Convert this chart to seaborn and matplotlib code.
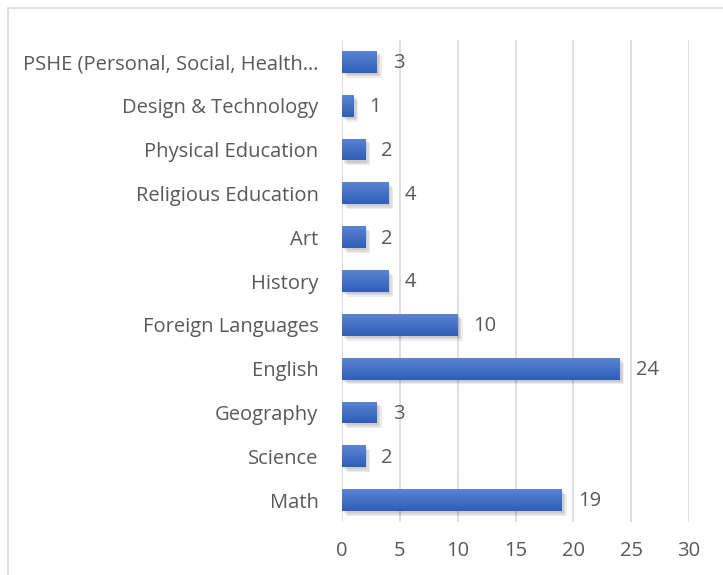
import matplotlib
matplotlib.use("Agg")
import matplotlib.pyplot as plt
import matplotlib.patheffects as pe
from matplotlib.patches import Rectangle
from matplotlib.colors import LinearSegmentedColormap
import seaborn as sns
import pandas as pd
import numpy as np

subjects = ["PSHE (Personal, Social, Health…", "Design & Technology", "Physical Education",
            "Religious Education", "Art", "History", "Foreign Languages", "English",
            "Geography", "Science", "Math"]
counts = [3, 1, 2, 4, 2, 4, 10, 24, 3, 2, 19]
xticks = [0, 5, 10, 15, 20, 25, 30]

df = pd.DataFrame({"subject": subjects, "count": counts})

sns.set_theme(style="white")
plt.rcParams["font.family"] = ["Open Sans", "DejaVu Sans"]

W, H = 723, 575
fig = plt.figure(figsize=(W / 100, H / 100), dpi=100)
ax = fig.add_axes([342 / W, 1 - 522 / H, (689 - 342) / W, (522 - 40) / H])

sns.barplot(data=df, y="subject", x="count", orient="h", color="#3A68C2",
            width=0.5, ax=ax, saturation=1, zorder=3)

ax.set_xlim(0, 30)
ax.set_ylim(10.5, -0.5)

shadow = [pe.SimplePatchShadow(offset=(o, -o), shadow_rgbFace="#000000", alpha=0.07)
          for o in (3.5, 2.5, 1.5)]
grad = np.linspace(0, 1, 64).reshape(-1, 1)
cmap = LinearSegmentedColormap.from_list("g", ["#5B85D3", "#2F5EB6"])
for p in list(ax.patches):
    p.set_edgecolor("none")
    p.set_path_effects(shadow + [pe.Normal()])
    x0, y0 = p.get_x(), p.get_y()
    w, h = p.get_width(), p.get_height()
    im = ax.imshow(grad, cmap=cmap, aspect="auto", extent=(x0, x0 + w, y0 + h, y0),
                   origin="upper", zorder=4, interpolation="bilinear")
    im.set_clip_path(p)

ax.set_xlim(0, 30)
ax.set_ylim(10.5, -0.5)

txtc = "#595959"
for i, v in enumerate(counts):
    ax.annotate(str(v), xy=(v, i), xytext=(11.5, -1), textcoords="offset points",
                va="center", ha="left", fontsize=14.5, color=txtc)

ax.set_xticks(xticks)
ax.set_xticklabels([str(t) for t in xticks])
ax.grid(axis="x", color="#D9D9D9", linewidth=1.2, zorder=0)
ax.set_axisbelow(True)
for s in ax.spines.values():
    s.set_visible(False)
ax.tick_params(axis="both", length=0, labelsize=14.5, colors=txtc)
ax.tick_params(axis="x", pad=14)
ax.tick_params(axis="y", pad=17)
ax.set_xlabel("")
ax.set_ylabel("")

fig.patches.append(Rectangle((8 / W, -0.1), 1.2, 1 - 8 / H + 0.1, transform=fig.transFigure,
                             fill=False, edgecolor="#D9D9D9", linewidth=1.2))

fig.savefig("out.png", dpi=100)
